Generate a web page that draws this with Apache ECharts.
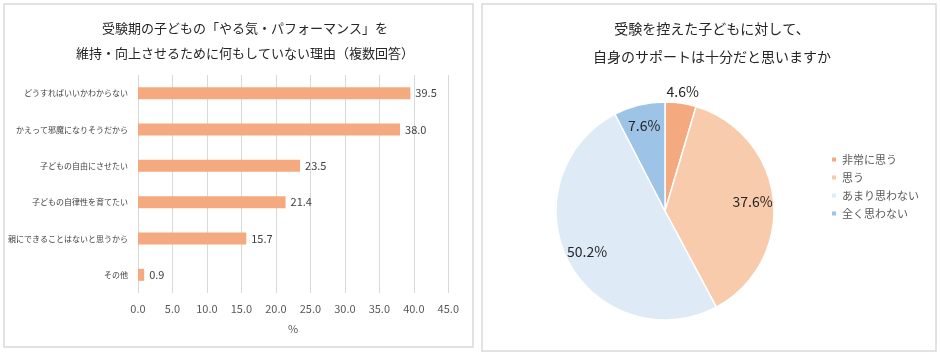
<!DOCTYPE html>
<html>
<head>
<meta charset="utf-8">
<script src="https://cdn.jsdelivr.net/npm/echarts@6/dist/echarts.min.js"></script>
<style>
html,body{margin:0;padding:0;background:#fff;}
#c{width:940px;height:355px;}
</style>
</head>
<body>
<div id="c"></div>
<script>
// ---- data ----
const barCategories = ['どうすればいいかわからない', 'かえって邪魔になりそうだから', '子どもの自由にさせたい', '子どもの自律性を育てたい', '親にできることはないと思うから', 'その他'];
const barValues = [39.5, 38.0, 23.5, 21.4, 15.7, 0.9];
const barTitle = '受験期の子どもの「やる気・パフォーマンス」を\n維持・向上させるために何もしていない理由（複数回答）';
const barAxisName = '%';

const pieNames = ['非常に思う', '思う', 'あまり思わない', '全く思わない'];
const pieValues = [4.6, 37.6, 50.2, 7.6];
const pieTitle = '受験を控えた子どもに対して、\n自身のサポートは十分だと思いますか';

// ---- styles ----
const FONT = '"Noto Sans CJK JP", "Noto Sans", sans-serif';
const pieColors = ['#F4A97F', '#F8CBAD', '#DEEBF7', '#9DC3E6'];

const chart = echarts.init(document.getElementById('c'), null, {renderer: 'canvas'});

const pieData = pieNames.map((n, i) => ({name: n, value: pieValues[i], itemStyle: {color: pieColors[i]}}));
const pieLabelData = pieNames.map((n, i) => {
  const d = {name: n, value: pieValues[i]};
  if (i === 0) d.label = {offset: [5, -32]};
  return d;
});

chart.setOption({
  animation: false,
  textStyle: {fontFamily: FONT},
  graphic: [
    {type: 'rect', shape: {x: 4, y: 4, width: 469, height: 343}, style: {fill: 'none', stroke: '#d9d9d9', lineWidth: 1.5}, silent: true},
    {type: 'rect', shape: {x: 482, y: 4, width: 454, height: 347}, style: {fill: 'none', stroke: '#d9d9d9', lineWidth: 1.5}, silent: true}
  ],
  title: [
    {text: barTitle, left: 240, top: 11, textAlign: 'center',
     textStyle: {fontFamily: FONT, fontSize: 13, fontWeight: 'normal', color: '#262626', lineHeight: 25}},
    {text: pieTitle, left: 707, top: 10, textAlign: 'center',
     textStyle: {fontFamily: FONT, fontSize: 14, fontWeight: 'normal', color: '#262626', lineHeight: 28}}
  ],
  legend: {
    orient: 'vertical', left: 825, top: 149,
    itemWidth: 6, itemHeight: 6, itemGap: 7, icon: 'rect',
    data: pieNames,
    textStyle: {fontFamily: FONT, fontSize: 11, color: '#595959'}
  },
  grid: {left: 138, right: 491.7, top: 75, bottom: 62, containLabel: false},
  xAxis: {
    type: 'value', min: 0, max: 45, interval: 5,
    name: barAxisName, nameLocation: 'middle', nameGap: 30,
    nameTextStyle: {fontFamily: FONT, fontSize: 11, color: '#595959'},
    axisLine: {show: false}, axisTick: {show: false},
    splitLine: {show: true, lineStyle: {color: '#d9d9d9', width: 1}},
    axisLabel: {margin: 10, fontFamily: FONT, fontSize: 11, color: '#595959', formatter: v => v.toFixed(1)}
  },
  yAxis: {
    type: 'category', data: barCategories, inverse: true,
    axisLine: {show: false}, axisTick: {show: false},
    axisLabel: {margin: 10, fontFamily: FONT, fontSize: 8, color: '#404040'}
  },
  series: [
    {
      type: 'bar', data: barValues, barWidth: 12,
      itemStyle: {color: '#F4A97F'},
      label: {show: true, position: 'right', distance: 5, fontFamily: FONT, fontSize: 11, color: '#404040', formatter: p => p.value.toFixed(1)}
    },
    {
      type: 'pie', center: [665, 211], radius: [0, 109], startAngle: 90, clockwise: true,
      data: pieData,
      itemStyle: {borderColor: '#fff', borderWidth: 1.5},
      label: {show: false}, labelLine: {show: false},
      emphasis: {disabled: true}
    },
    {
      type: 'pie', center: [665, 211], radius: [0, 170], startAngle: 90, clockwise: true,
      data: pieLabelData, silent: true, z: 5,
      itemStyle: {color: 'rgba(0,0,0,0)', borderWidth: 0},
      label: {show: true, position: 'inside', fontFamily: FONT, fontSize: 14, color: '#262626', formatter: p => p.value.toFixed(1) + '%'},
      labelLine: {show: false},
      emphasis: {disabled: true}
    }
  ]
});
</script>
</body>
</html>
